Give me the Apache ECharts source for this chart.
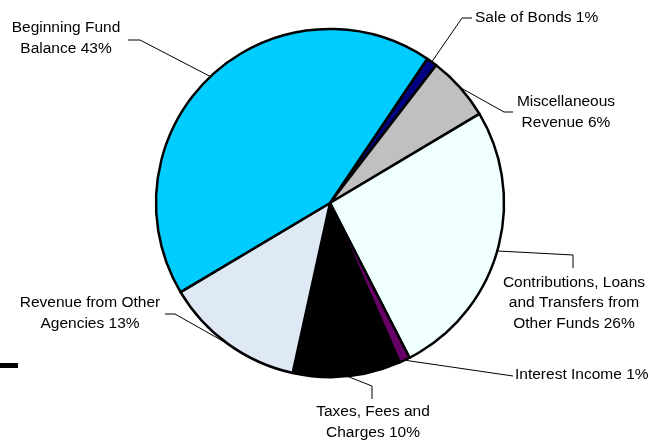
<!DOCTYPE html>
<html>
<head>
<meta charset="utf-8">
<script src="https://cdn.jsdelivr.net/npm/echarts@6/dist/echarts.min.js"></script>
<style>html,body{margin:0;padding:0;background:#fff}#c{width:670px;height:440px}</style>
</head>
<body>
<div id="c"></div>
<script>
// Data (clockwise from top-right)
var categories = [
  'Sale of Bonds',
  'Miscellaneous\nRevenue',
  'Contributions, Loans\nand Transfers from\nOther Funds',
  'Interest Income',
  'Taxes, Fees and\nCharges',
  'Revenue from Other\nAgencies',
  'Beginning Fund\nBalance'
];
var values = [1, 6, 26, 1, 10, 13, 43];
var colors = ['#000080', '#C0C0C0', '#F0FFFF', '#660066', '#000000', '#DFE8F5', '#00CCFF'];

// Label placement (layout only)
var labelPlace = [
  {x: 475, y: 18, align: 'left', line: [[462, 18], [472, 18]]},
  {x: 566, y: 112, align: 'center', line: [[504, 112], [513, 112]]},
  {x: 574, y: 303, align: 'center', line: [[573, 255], [573, 268]]},
  {x: 515, y: 375, align: 'left', line: [[513, 376]]},
  {x: 373, y: 422, align: 'center', line: [[372, 386], [372, 399]]},
  {x: 90, y: 313, align: 'center', line: [[175, 314], [165, 314]]},
  {x: 66, y: 38, align: 'center', line: [[140, 40], [128, 40]]}
];

var chart = echarts.init(document.getElementById('c'), null, {renderer: 'canvas'});
var data = categories.map(function (c, i) {
  return {name: c, value: values[i], itemStyle: {color: colors[i]}};
});
chart.setOption({
  animation: false,
  backgroundColor: '#ffffff',
  graphic: [{type: 'rect', shape: {x: 0, y: 363, width: 18, height: 5}, style: {fill: '#000'}}],
  series: [{
    type: 'pie',
    center: [330, 203],
    radius: 174,
    startAngle: 56,
    clockwise: true,
    avoidLabelOverlap: false,
    data: data,
    itemStyle: {borderColor: '#000', borderWidth: 2.5},
    label: {
      show: true,
      formatter: function (p) { return p.name + ' ' + p.value + '%'; },
      fontFamily: 'Liberation Sans, Arial, sans-serif',
      fontSize: 15.5,
      lineHeight: 20.5,
      color: '#000'
    },
    labelLine: {show: true, length: 10, length2: 10, lineStyle: {color: '#000', width: 1}},
    labelLayout: function (params) {
      var p = labelPlace[params.dataIndex];
      var pts = [params.labelLinePoints[0]].concat(p.line);
      return {x: p.x, y: p.y, align: p.align, verticalAlign: 'middle', labelLinePoints: pts};
    },
    emphasis: {disabled: true}
  }]
});
</script>
</body>
</html>
